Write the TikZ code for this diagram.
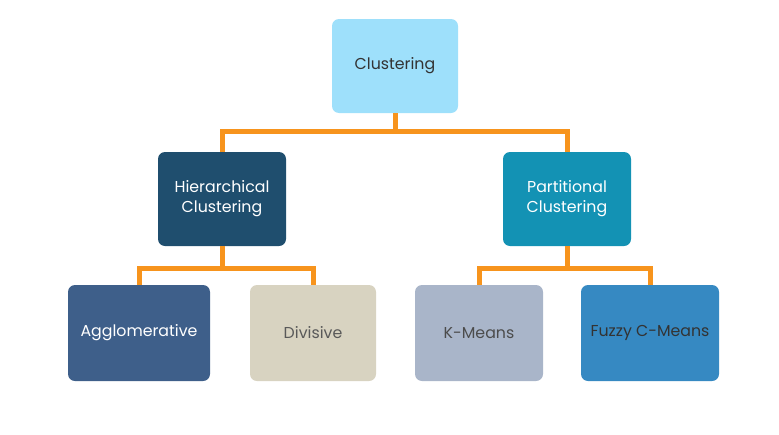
\documentclass[tikz,border=0pt]{standalone}
\usepackage{fontspec}
\setmainfont{Poppins}
\definecolor{clroot}{RGB}{158,224,251}
\definecolor{clhier}{RGB}{31,78,110}
\definecolor{clpart}{RGB}{19,146,180}
\definecolor{claggl}{RGB}{62,95,138}
\definecolor{cldivi}{RGB}{216,211,193}
\definecolor{clkmea}{RGB}{169,181,201}
\definecolor{clfuzz}{RGB}{54,137,194}
\definecolor{clorange}{RGB}{247,148,29}
\usetikzlibrary{positioning}

\begin{document}
\begin{tikzpicture}[x=1pt, y=-1pt,
    catbox/.style={rectangle, rounded corners=7pt, inner sep=0pt,
                   minimum width=126pt, minimum height=94pt, align=center,
                   font=\fontsize{15.8}{20}\selectfont},
    conn/.style={draw=clorange, line width=5pt}
  ]
    \useasboundingbox (0,0) rectangle (779,434);

    % Top level
    \node[catbox, fill=clroot, text=black!80] (root) at (395,66) {Clustering};

    % Second level
    \node[catbox, fill=clhier, text=white, minimum width=128pt] (hier) at (222,199) {Hierarchical\\Clustering};
    \node[catbox, fill=clpart, text=white, minimum width=128pt] (part) at (567,199) {Partitional\\Clustering};

    % Third level
    \node[catbox, fill=claggl, text=white, minimum width=142pt, minimum height=96pt] (aggl) at (139,333) {Agglomerative};
    \node[catbox, fill=cldivi, text=black!65, minimum height=96pt] (divi) at (313,333) {Divisive};
    \node[catbox, fill=clkmea, text=black!70, minimum width=128pt, minimum height=96pt] (kmea) at (479,333) {K-Means};
    \node[catbox, fill=clfuzz, text=black!80, minimum width=138pt, minimum height=96pt] (fuzz) at (650,333) {Fuzzy C-Means};

    % Junctions
    \coordinate (jroot) at (395,131);
    \coordinate (jhier) at (222,268);
    \coordinate (jpart) at (567,268);

    % Connectors
    \draw[conn] (root.south) -- (jroot);
    \draw[conn] (jroot) -| (hier.north);
    \draw[conn] (jroot) -| (part.north);
    \draw[conn] (hier.south) -- (jhier);
    \draw[conn] (jhier) -| (aggl.north);
    \draw[conn] (jhier) -| (divi.north);
    \draw[conn] (part.south) -- (jpart);
    \draw[conn] (jpart) -| (kmea.north);
    \draw[conn] (jpart) -| (fuzz.north);
\end{tikzpicture}
\end{document}
